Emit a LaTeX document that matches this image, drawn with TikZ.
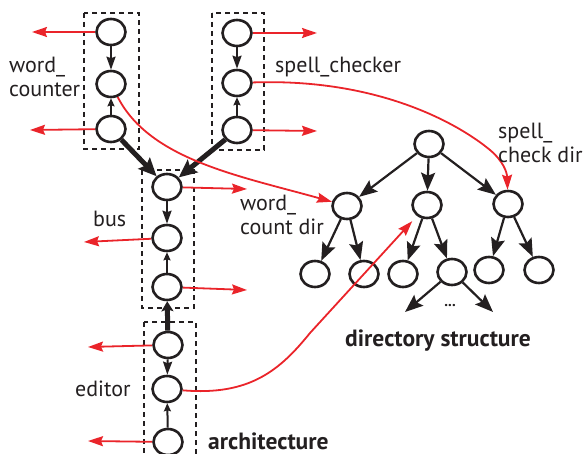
\documentclass[tikz,border=0pt]{standalone}
\usepackage{fontspec}
\setmainfont{PT Sans}
\usetikzlibrary{arrows.meta,shapes.geometric}
\definecolor{lnk}{RGB}{234,36,42}
\definecolor{ink}{RGB}{35,31,32}

\begin{document}
\begin{tikzpicture}[x=1pt,y=-1pt,
  st/.style={ellipse, draw=ink, line width=2.6pt, minimum width=29pt,
    minimum height=26pt, inner sep=0pt},
  grp/.style={draw=ink, line width=2.4pt, dash pattern=on 5pt off 4pt},
  port/.style={draw=lnk, line width=1.8pt,
    -{Stealth[length=15pt,width=10pt,inset=2pt]}},
  dnarr/.style={draw=ink, line width=2pt,
    -{Stealth[length=13pt,width=9pt,inset=1.5pt]}},
  uparr/.style={draw=ink, line width=2pt,
    -{Stealth[length=8pt,width=7pt,inset=1pt]}},
  conn/.style={draw=ink, line width=5pt,
    -{Stealth[length=18pt,width=16pt,inset=3pt]}},
  conn2/.style={draw=ink, line width=5pt,
    -{Stealth[length=10pt,width=12pt,inset=2pt]}},
  tre/.style={draw=ink, line width=2.2pt,
    -{Stealth[length=18pt,width=14pt,inset=3pt]}},
  lbl/.style={text=ink, inner sep=0pt, anchor=base west, align=left,
    font=\fontsize{22}{24.5}\selectfont},
  blbl/.style={lbl, font=\fontsize{23.5}{25}\selectfont\bfseries}]

\useasboundingbox (0,0) rectangle (583,454);

% component boxes
\draw[grp] (84,13) rectangle (139,149);
\draw[grp] (212,13) rectangle (264,150);
\draw[grp] (142,170) rectangle (194,308);
\draw[grp] (144,322) rectangle (196,470);

% word_counter
\node[st] (wc1) at (111,32) {};
\node[st] (wc2) at (111,84) {};
\node[st] (wc3) at (111,129) {};
% spell_checker
\node[st] (sc1) at (237,33) {};
\node[st] (sc2) at (237,83) {};
\node[st] (sc3) at (237,130) {};
% bus
\node[st] (bs1) at (167,187) {};
\node[st] (bs2) at (167,238) {};
\node[st] (bs3) at (167,287) {};
% editor
\node[st] (ed1) at (168,345) {};
\node[st] (ed2) at (167,389) {};
\node[st] (ed3) at (168,442) {};

% directory tree
\node[st] (R) at (429,144) {};
\node[st] (A) at (347,206) {};
\node[st] (B) at (427,205) {};
\node[st] (C) at (508,204) {};
\node[st] (A1) at (315,274) {};
\node[st] (A2) at (364,274) {};
\node[st] (B1) at (403,274) {};
\node[st] (B2) at (452,272) {};
\node[st] (C1) at (489,270) {};
\node[st] (C2) at (539,270) {};
\coordinate (B2l) at (405,312);
\coordinate (B2r) at (493,312);
\node[text=ink, font=\fontsize{15}{15}\selectfont\bfseries, inner sep=0pt] (dots) at (450,306) {...};

% tree edges
\draw[tre] (R) -- (A);
\draw[tre] (R) -- (B);
\draw[tre] (R) -- (C);
\draw[tre] (A) -- (A1);
\draw[tre] (A) -- (A2);
\draw[tre] (B) -- (B1);
\draw[tre] (B) -- (B2);
\draw[tre] (C) -- (C1);
\draw[tre] (C) -- (C2);
\draw[tre] (B2) -- (B2l);
\draw[tre] (B2) -- (B2r);

% links inside components
\draw[dnarr] (wc1) -- (wc2);
\draw[uparr] (wc3) -- (wc2);
\draw[dnarr] (sc1) -- (sc2);
\draw[uparr] (sc3) -- (sc2);
\draw[dnarr] (bs1) -- (bs2);
\draw[uparr] (bs3) -- (bs2);
\draw[dnarr] (ed1) -- (ed2);
\draw[uparr] (ed3) -- (ed2);

% connectors between components
\draw[conn] (wc3) -- (bs1);
\draw[conn] (sc3) -- (bs1);
\draw[conn2] (ed1) -- (bs3);

% outgoing ports
\coordinate (wc1o) at (32,32);
\coordinate (wc3o) at (30,130);
\coordinate (sc1o) at (317,33);
\coordinate (sc3o) at (317,131);
\coordinate (bs1o) at (247,189);
\coordinate (bs2o) at (84,242);
\coordinate (bs3o) at (247,290);
\coordinate (ed1o) at (88,347);
\coordinate (ed3o) at (88,441);
\draw[port] (wc1) -- (wc1o);
\draw[port] (wc3) -- (wc3o);
\draw[port] (sc1) -- (sc1o);
\draw[port] (sc3) -- (sc3o);
\draw[port] (bs1) -- (bs1o);
\draw[port] (bs2) -- (bs2o);
\draw[port] (bs3) -- (bs3o);
\draw[port] (ed1) -- (ed1o);
\draw[port] (ed3) -- (ed3o);

% components mapped onto directories
\draw[port] (wc2) .. controls (150,160) and (240,176) .. (A);
\draw[port] (sc2) .. controls (380,78) and (460,125) .. (490,150)
  .. controls (503,161) and (507,172) .. (C);
\draw[port, shorten >=7pt] (ed2) .. controls (250,396) and (280,370) .. (310,333) -- (B);

% labels (anchored on the baseline of the last line)
\node[lbl] (lwc) at (9,97) {word\_\\counter};
\node[lbl] (lsc) at (275,73) {spell\_checker};
\node[lbl] (lbs) at (93,226) {bus};
\node[lbl] (led) at (75,396) {editor};
\node[lbl] (lwd) at (240,235) {word\_\\count dir};
\node[lbl] (lsd) at (498,163) {spell\_\\check dir};
\node[blbl] (larch) at (208,449) {architecture};
\node[blbl] (ldir) at (345,346) {directory structure};
\end{tikzpicture}
\end{document}
